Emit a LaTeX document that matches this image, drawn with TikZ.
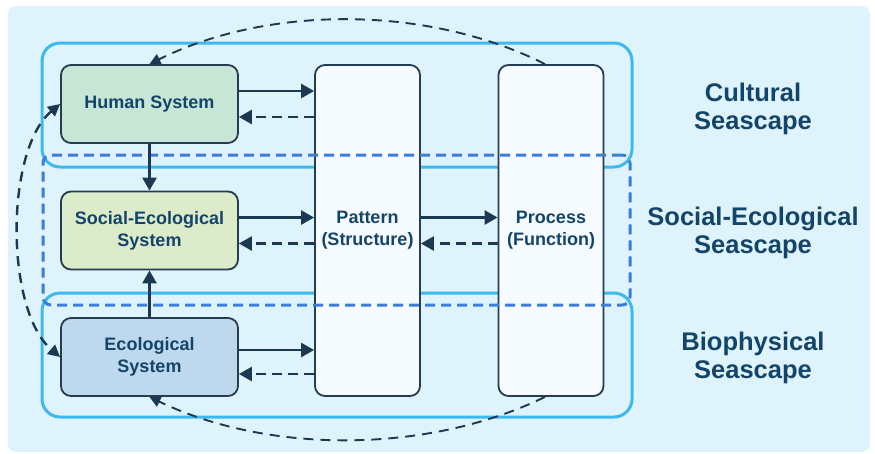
\documentclass[tikz,border=0pt]{standalone}
\usepackage{fontspec}
\setmainfont{Liberation Sans}
\usetikzlibrary{arrows.meta}

\definecolor{bgblue}{HTML}{DFF3FC}
\definecolor{humanfill}{HTML}{C8E6D5}
\definecolor{sesfill}{HTML}{DCEBC9}
\definecolor{ecofill}{HTML}{BED9EE}
\definecolor{colfill}{HTML}{F5FBFE}
\definecolor{boxline}{HTML}{263D4F}
\definecolor{arrowdark}{HTML}{1B3A52}
\definecolor{labelblue}{HTML}{13456A}
\definecolor{layercyan}{HTML}{3DB9EF}
\definecolor{layerblue}{HTML}{3C7ED6}

\begin{document}
\begin{tikzpicture}[x=1pt,y=-1pt,
        box/.style={draw=boxline, line width=1.8pt, rounded corners=10pt,
            minimum width=177pt, minimum height=78pt, align=center,
            font=\fontsize{18}{22}\selectfont\bfseries, text=labelblue},
        colbox/.style={box, fill=colfill, minimum width=105pt, minimum height=331pt},
        seaframe/.style={draw=layercyan, line width=3pt, rounded corners=18pt,
            minimum width=590pt, minimum height=124pt},
        scape/.style={font=\fontsize{25.5}{28}\selectfont\bfseries, text=labelblue, align=center},
        flow/.style={draw=arrowdark, line width=2.6pt, -{Triangle[length=13pt,width=14pt]}},
        back/.style={flow, dash pattern=on 10pt off 6pt},
        cycleline/.style={draw=arrowdark, line width=1.9pt, dash pattern=on 10pt off 7pt,
            -{Triangle[length=11pt,width=11pt]}}
    ]
    \useasboundingbox (0,0) rectangle (875,453);
    \fill[bgblue, rounded corners=8pt] (8,6) rectangle (870,452);

    % seascape layers
    \node[seaframe] (cultural) at (337,105) {};
    \node[seaframe] (biophys) at (337,355) {};

    % systems and columns
    \node[box, fill=humanfill] (human) at (149.5,104) {Human System};
    \node[box, fill=sesfill] (ses) at (149.5,230.5) {Social-Ecological\\System};
    \node[box, fill=ecofill] (eco) at (149.5,357) {Ecological\\System};
    \node[colbox] (pattern) at (367.5,230.5) {Pattern\\(Structure)};
    \node[colbox] (process) at (551,230.5) {Process\\(Function)};

    \node[seaframe, draw=layerblue, dash pattern=on 10pt off 6pt, rounded corners=8pt,
        minimum width=587pt, minimum height=150pt] (socioeco) at (336.5,230) {};

    % seascape names
    \node[scape] (culturalname) at (753,109) {Cultural\\Seascape};
    \node[scape] (socioeconame) at (753,233) {Social-Ecological\\Seascape};
    \node[scape] (biophysname) at (753,358) {Biophysical\\Seascape};

    % links to pattern
    \draw[flow] ([yshift=13pt]human.east) -- ([yshift=13pt]human.east -| pattern.west);
    \draw[back] ([yshift=-13pt]human.east -| pattern.west) -- ([yshift=-13pt]human.east);
    \draw[flow] ([yshift=13pt]ses.east) -- ([yshift=13pt]ses.east -| pattern.west);
    \draw[back] ([yshift=-13pt]ses.east -| pattern.west) -- ([yshift=-13pt]ses.east);
    \draw[flow] ([yshift=7pt]eco.east) -- ([yshift=7pt]eco.east -| pattern.west);
    \draw[back] ([yshift=-17pt]eco.east -| pattern.west) -- ([yshift=-17pt]eco.east);
    \draw[flow] ([yshift=13pt]pattern.east) -- ([yshift=13pt]process.west);
    \draw[back] ([yshift=-13pt]process.west) -- ([yshift=-13pt]pattern.east);

    \draw[flow] (human) -- (ses);
    \draw[flow] (eco) -- (ses);

    % feedback loops
    \draw[cycleline] ([xshift=-6pt]process.north) .. controls (428,5) and (268,5) .. (human.north);
    \draw[cycleline] ([xshift=-6pt]process.south) .. controls (428,454) and (268,454) .. (eco.south);
    \draw[cycleline, line width=2.4pt, {Triangle[length=12pt,width=12pt]}-{Triangle[length=12pt,width=12pt]}]
        (human.west) .. controls (5,150) and (5,310) .. (eco.west);
\end{tikzpicture}
\end{document}
